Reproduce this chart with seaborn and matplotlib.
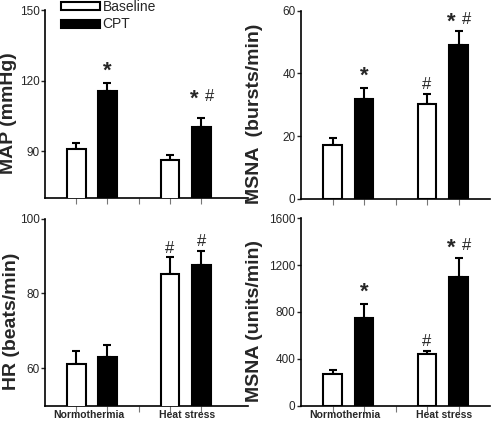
import numpy as np
import pandas as pd
import matplotlib
matplotlib.use("Agg")
import matplotlib.pyplot as plt
from matplotlib.patches import Patch
import seaborn as sns

# bar positions: Normothermia (1, 2), Heat stress (4, 5)
positions = [1, 2, 4, 5]
conditions = ["Baseline", "CPT", "Baseline", "CPT"]
groups = ["Normothermia", "Heat stress"]

map_mean = [90.7, 115.6, 86.4, 100.2]
map_sem = [2.6, 3.5, 2.1, 3.8]
msna_b_mean = [17.2, 31.9, 30.3, 48.9]
msna_b_sem = [2.1, 3.4, 3.2, 4.6]
hr_mean = [61.2, 63.1, 85.3, 87.6]
hr_sem = [3.3, 3.2, 4.3, 3.8]
msna_u_mean = [273, 747, 439, 1100]
msna_u_sem = [32, 120, 29, 165]

# significance marks per bar
map_marks = ["", "*", "", "*#"]
msna_b_marks = ["", "*", "#", "*#"]
hr_marks = ["", "", "#", "#"]
msna_u_marks = ["", "*", "#", "*#"]

sns.set_style("ticks")
plt.rcParams["font.family"] = ["Liberation Sans", "DejaVu Sans"]

fig = plt.figure(figsize=(4.92, 4.26), dpi=100)
W, H = 492, 426


def add_ax(x0, x1, y0, y1):
    return fig.add_axes([x0 / W, 1 - y1 / H, (x1 - x0) / W, (y1 - y0) / H])


# (axes, means, sems, marks, ylabel, ylim, yticks, xmax, label x, lift of "*#")
panels = [
    (add_ax(45, 248, 10.3, 198), map_mean, map_sem, map_marks, "MAP (mmHg)",
     (70, 150), [90, 120, 150], 6.5, -0.138, 7),
    (add_ax(301, 490, 10.7, 198.7), msna_b_mean, msna_b_sem, msna_b_marks,
     "MSNA  (bursts/min)", (0, 60), [0, 20, 40, 60], 6.0, -0.20, 0),
    (add_ax(45, 248, 218.5, 405.7), hr_mean, hr_sem, hr_marks, "HR (beats/min)",
     (50, 100), [60, 80, 100], 6.5, -0.123, 0),
    (add_ax(301, 490, 218.3, 405.7), msna_u_mean, msna_u_sem, msna_u_marks,
     "MSNA (units/min)", (0, 1600), [0, 400, 800, 1200, 1600], 6.0, -0.20, 0),
]

for i, (ax, mean, sem, marks, label, ylim, yticks, xmax, lx, lift) in enumerate(panels):
    df = pd.DataFrame({"pos": positions, "value": mean, "condition": conditions})
    sns.barplot(data=df, x="pos", y="value", hue="condition", native_scale=True,
                dodge=False, width=0.6, palette={"Baseline": "white", "CPT": "black"},
                edgecolor="black", linewidth=1.5, legend=False, ax=ax, zorder=3)
    ax.errorbar(positions, mean, yerr=[np.zeros(len(sem)), sem], fmt="none",
                ecolor="black", elinewidth=1.5, capsize=3.2, capthick=1.5, zorder=2)
    for p, m, s, mk in zip(positions, mean, sem, marks):
        top = m + s
        if mk == "*":
            ax.annotate("*", (p, top), xytext=(0, 1), textcoords="offset points",
                        ha="center", va="bottom", fontsize=16, fontweight="bold")
        elif mk == "#":
            ax.annotate("#", (p, top), xytext=(0, 1), textcoords="offset points",
                        ha="center", va="bottom", fontsize=12)
        elif mk == "*#":
            ax.annotate("*", (p, top), xytext=(-5, -1 + lift), textcoords="offset points",
                        ha="center", va="bottom", fontsize=16, fontweight="bold")
            ax.annotate("#", (p, top), xytext=(6, 3 + lift), textcoords="offset points",
                        ha="center", va="bottom", fontsize=12)
    ax.set_xlim(0, xmax)
    ax.set_ylim(*ylim)
    ax.set_yticks(yticks)
    ax.set_xticks([1, 2, 3, 4, 5])
    ax.set_xticklabels([])
    ax.tick_params(axis="x", which="major", length=4, width=0.8, color="#777777")
    ax.tick_params(axis="y", length=3, width=1, labelsize=8.5, pad=1)
    if i >= 2:
        ax.set_xticks([1.4, 4.55], minor=True)
        ax.set_xticklabels(groups, minor=True, fontsize=7.5, fontweight="bold")
        ax.tick_params(axis="x", which="minor", length=0, pad=3)
    ax.set_xlabel("")
    ax.set_ylabel(label, fontsize=14, fontweight="bold")
    ax.yaxis.set_label_coords(lx, 0.45)
    for side in ["left", "bottom"]:
        ax.spines[side].set_linewidth(1.2)
        ax.spines[side].set_color("black")
    sns.despine(ax=ax)

handles = [Patch(facecolor="white", edgecolor="black", linewidth=1.5),
           Patch(facecolor="black", edgecolor="black", linewidth=1.5)]
fig.legend(handles, ["Baseline", "CPT"], loc="upper left",
           bbox_to_anchor=(61 / W, 1.0), frameon=False, fontsize=10,
           handlelength=2.8, handleheight=0.5, handletextpad=0.2,
           labelspacing=0.25, borderpad=0, borderaxespad=0)

fig.savefig("out.png", dpi=100)
